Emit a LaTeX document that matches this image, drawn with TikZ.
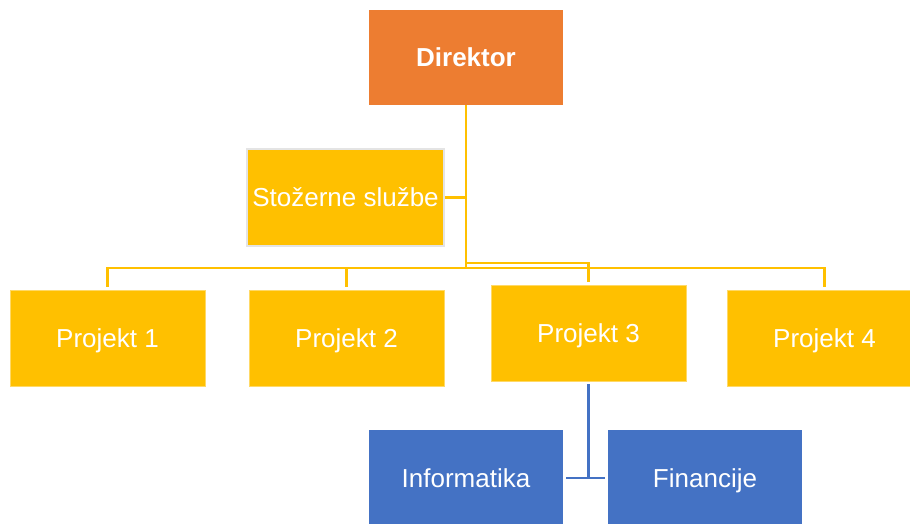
\documentclass[tikz,border=0pt]{standalone}
\usepackage{fontspec}
\setmainfont{Liberation Sans}
\definecolor{orgorange}{HTML}{ED7D31}
\definecolor{orgyellow}{HTML}{FFC000}
\definecolor{orgblue}{HTML}{4472C4}
\definecolor{staffedge}{HTML}{E4E4E4}
\begin{document}
\begin{tikzpicture}[x=1pt, y=-1pt,
  unit/.style={rectangle, minimum width=195pt, minimum height=96pt, inner sep=0pt,
    text height=20pt, text depth=2pt, text=white, font=\fontsize{26}{30}\selectfont},
  headbox/.style={unit, fill=orgorange, minimum width=194pt, minimum height=95pt, font=\fontsize{26}{30}\selectfont\bfseries},
  projbox/.style={unit, fill=orgyellow, draw=orgyellow!60!white, line width=0.6pt},
  staffbox/.style={unit, fill=orgyellow, draw=staffedge, line width=2pt, minimum width=197pt, minimum height=97pt},
  deptbox/.style={unit, fill=orgblue, minimum width=194pt},
  yline/.style={draw=orgyellow, line width=2.4pt},
  bline/.style={draw=orgblue, line width=2.8pt}]
  \useasboundingbox (0,0) rectangle (910,523);
  \clip (0,0) rectangle (910,523);

  % vrh organizacije
  \node[headbox] (dir) at (466, 57.5) {Direktor};

  % stozerne sluzbe uz glavnu liniju
  \node[staffbox] (staff) at (345.5, 197.5) {Stožerne službe};

  % projekti
  \node[projbox] (p1) at (107.5, 338) {Projekt 1};
  \node[projbox] (p2) at (346.5, 338) {Projekt 2};
  \node[projbox] (p3) at (588.5, 333) {Projekt 3};
  \node[projbox] (p4) at (824.5, 338) {Projekt 4};

  % odjeli ispod projekta 3
  \node[deptbox] (inf) at (466, 478) {Informatika};
  \node[deptbox] (fin) at (705, 478) {Financije};

  % linije od direktora
  \draw[yline] (staff.east) -- (staff.east -| dir.south);
  \draw[yline, shorten >=3pt] (dir.south) -- ++(0,163) -| (p1.north);
  \draw[yline, shorten >=3pt] (dir.south) -- ++(0,163) -| (p2.north);
  \draw[yline, shorten >=3pt] (dir.south) -- ++(0,158) -| (p3.north);
  \draw[yline, shorten >=3pt] (dir.south) -- ++(0,163) -| (p4.north);

  % linije projekta 3
  \draw[bline, shorten <=3pt] (p3.south) -- (p3.south |- inf.east);
  \draw[bline, shorten <=3pt, shorten >=3pt] (inf.east) -- (fin.west);
\end{tikzpicture}
\end{document}
